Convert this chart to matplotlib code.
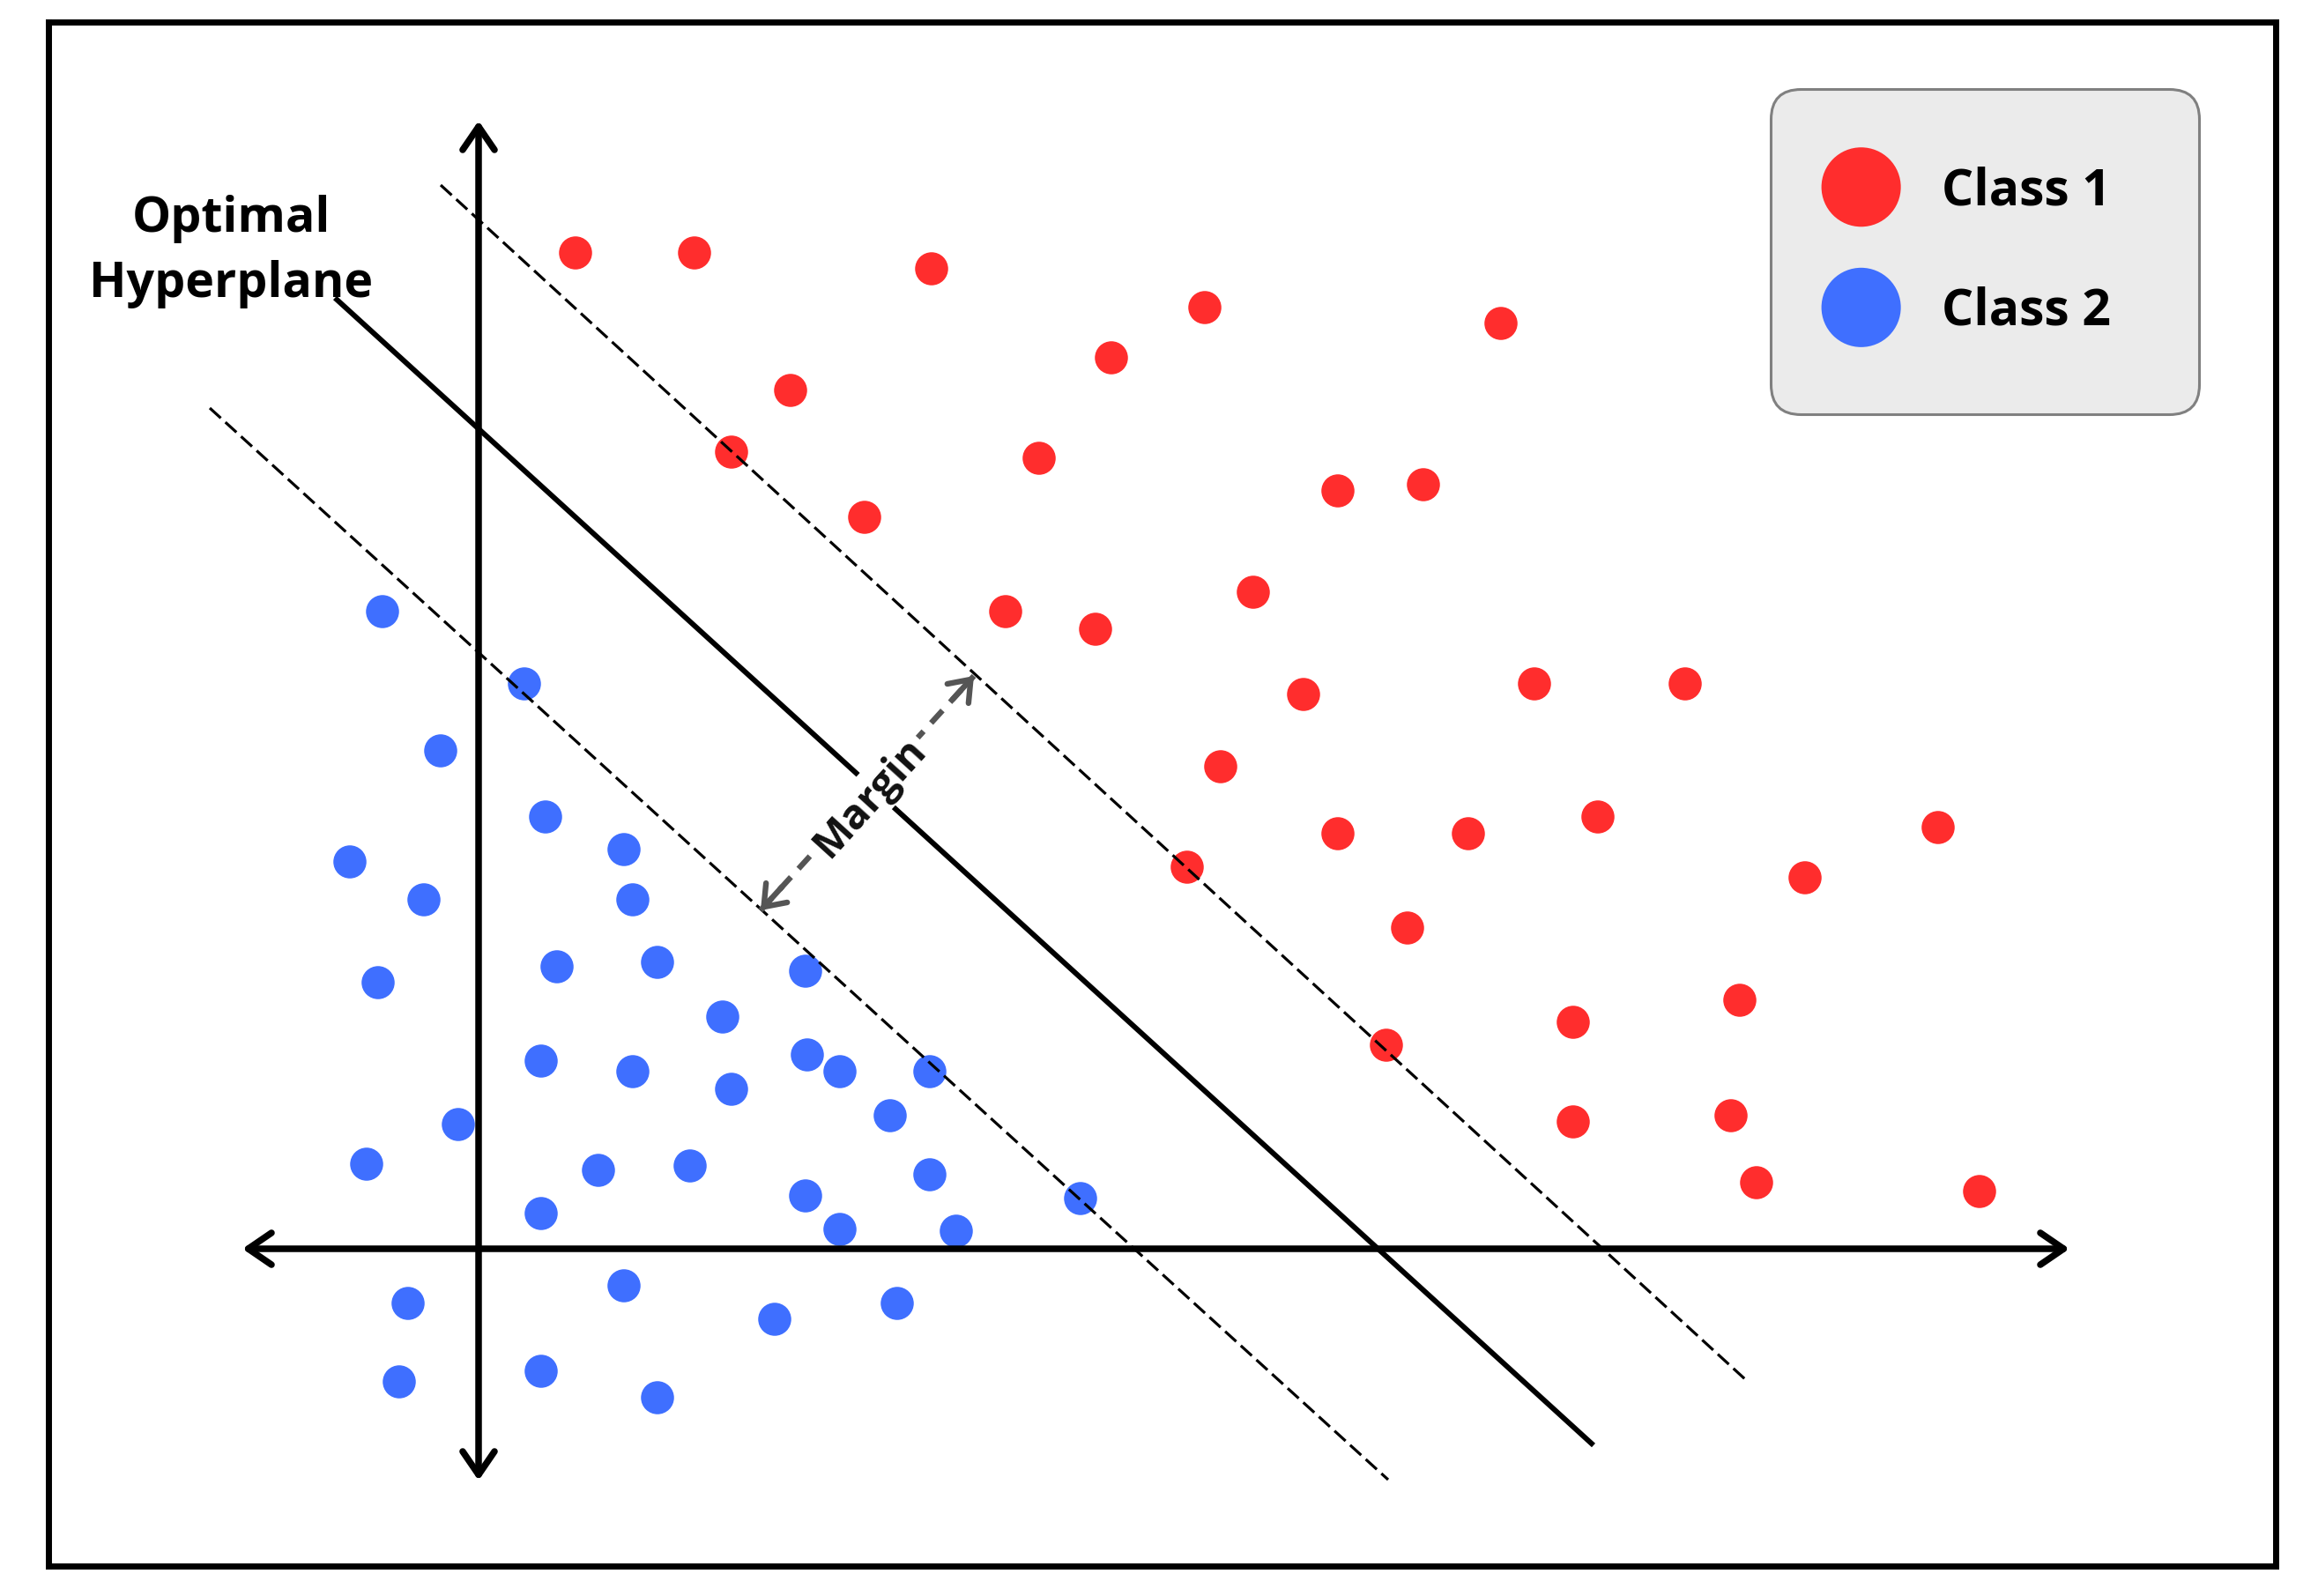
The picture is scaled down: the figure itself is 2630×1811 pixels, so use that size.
import matplotlib.pyplot as plt
from matplotlib.patches import FancyArrowPatch

plt.rcParams['font.family'] = ['Open Sans', 'DejaVu Sans']

RED = '#ff2d2d'
BLUE = '#3f6fff'

# class 1 points
red_x = [1.10, 2.45, 5.14, 8.24, 11.60, 7.18, 3.54, 2.87, 6.36, 9.75, 10.72,
         4.38, 8.79, 5.98, 7.00, 9.36, 11.98, 13.69, 8.42, 9.75, 11.23, 12.70,
         16.56, 8.04, 15.05, 10.54, 12.42, 14.31, 10.30, 12.42, 14.21, 14.50, 17.03]
red_y = [11.30, 11.30, 11.12, 10.68, 10.50, 10.11, 9.74, 9.04, 8.97, 8.60, 8.67,
         8.30, 7.45, 7.23, 7.03, 6.29, 6.41, 6.41, 5.47, 4.71, 4.71, 4.90,
         4.78, 4.33, 4.21, 3.64, 2.57, 2.82, 2.31, 1.44, 1.51, 0.75, 0.65]

# class 2 points
blue_x = [-1.09, 0.52, -0.43, 0.76, 1.65, -1.46, -0.62, 1.75, -1.14, 0.89, 2.03,
          3.71, 2.77, 0.71, 1.75, 3.73, 4.10, 5.12, 2.87, 4.67, -0.23, -1.27,
          1.36, 2.40, 5.12, 3.71, 0.71, 4.10, 5.42, 6.83, -0.80, 1.65, 3.36,
          4.75, -0.90, 0.71, 2.03]
blue_y = [7.23, 6.41, 5.65, 4.90, 4.53, 4.39, 3.96, 3.96, 3.02, 3.20, 3.25,
          3.15, 2.63, 2.13, 2.01, 2.20, 2.01, 2.01, 1.81, 1.51, 1.41, 0.96,
          0.89, 0.94, 0.84, 0.60, 0.40, 0.22, 0.20, 0.57, -0.62, -0.42, -0.80,
          -0.62, -1.51, -1.39, -1.69]

# lines: x pair, y pair
hyper_x, hyper_y = [-1.63, 12.65], [10.79, -2.23]
upper_x, upper_y = [-0.43, 14.37], [12.07, -1.48]
lower_x, lower_y = [-3.05, 10.32], [9.54, -2.62]
xaxis_x, xaxis_y = [-2.68, 18.05], [0, 0]
yaxis_x, yaxis_y = [0, 0], [12.80, -2.63]
margin_x, margin_y = [3.20, 5.62], [3.84, 6.50]

fig = plt.figure(figsize=(26.3, 18.11), dpi=100)
ax = fig.add_axes([54.5 / 2630, (1811 - 1776.5) / 1811, 2527 / 2630, 1752 / 1811])
ax.set_xlim(-4.885, 20.385)
ax.set_ylim(-3.595, 13.925)
ax.set_xticks([])
ax.set_yticks([])
for s in ax.spines.values():
    s.set_linewidth(5)
    s.set_color('black')

ax.scatter(red_x, red_y, s=730, color=RED, edgecolors='none', zorder=2, label='Class 1')
ax.scatter(blue_x, blue_y, s=730, color=BLUE, edgecolors='none', zorder=2, label='Class 2')

# coordinate axes with arrow heads
for xs, ys in [(xaxis_x, xaxis_y), (yaxis_x, yaxis_y)]:
    arr = FancyArrowPatch((xs[0], ys[0]), (xs[1], ys[1]),
                          arrowstyle='<->,head_length=19,head_width=13',
                          mutation_scale=1, lw=5.4, color='black',
                          shrinkA=0, shrinkB=0, capstyle='round',
                          joinstyle='round', zorder=4)
    ax.add_patch(arr)

ax.plot(hyper_x, hyper_y, color='black', lw=4.3, solid_capstyle='butt', zorder=3)
for xs, ys in [(upper_x, upper_y), (lower_x, lower_y)]:
    ax.plot(xs, ys, color='black', lw=2.3, ls=(0, (5.3, 2.2)),
            dash_capstyle='butt', zorder=3)

# margin arrow
ax.plot(margin_x, margin_y, color='#555555', lw=4.6, ls=(0, (3.0, 2.0)),
        dash_capstyle='butt', zorder=5)
for a, b in [(0, 1), (1, 0)]:
    tail = (margin_x[b] + 0.1 * (margin_x[a] - margin_x[b]),
            margin_y[b] + 0.1 * (margin_y[a] - margin_y[b]))
    ax.annotate('', xy=(margin_x[b], margin_y[b]), xytext=tail,
                arrowprops=dict(arrowstyle='->,head_length=0.6,head_width=0.45',
                                mutation_scale=26, lw=4.6, color='#555555',
                                shrinkA=0, shrinkB=0, capstyle='round',
                                joinstyle='round'), zorder=5)

ax.text((margin_x[0] + margin_x[1]) / 2 + 0.03, (margin_y[0] + margin_y[1]) / 2 - 0.05,
        'Margin', rotation=47.7, rotation_mode='anchor', ha='center', va='center',
        fontsize=34, fontweight='bold', color='#111111', zorder=6,
        bbox=dict(boxstyle='square,pad=0.08', fc='white', ec='none'))

ax.text(-2.81, 10.80, 'Optimal\nHyperplane', ha='center', va='baseline',
        fontsize=40, fontweight='bold', color='black', linespacing=1.45, zorder=6)

leg = ax.legend(loc='upper left', bbox_to_anchor=(0.7735, 0.7514, 0.1923, 0.2049),
                mode='expand', borderaxespad=0, markerscale=2.4, scatterpoints=1,
                scatteryoffsets=[0.5], prop={'weight': 'bold', 'size': 41},
                frameon=True, fancybox=True, facecolor='#ebebeb', edgecolor='#808080',
                framealpha=1, borderpad=1.53, labelspacing=1.38, handlelength=0.54,
                handletextpad=1.33)
leg.get_frame().set_linewidth(2.2)
leg.get_frame().set_boxstyle('round', pad=0, rounding_size=0.6)
leg.set_zorder(7)

fig.savefig('out.png', dpi=100)
